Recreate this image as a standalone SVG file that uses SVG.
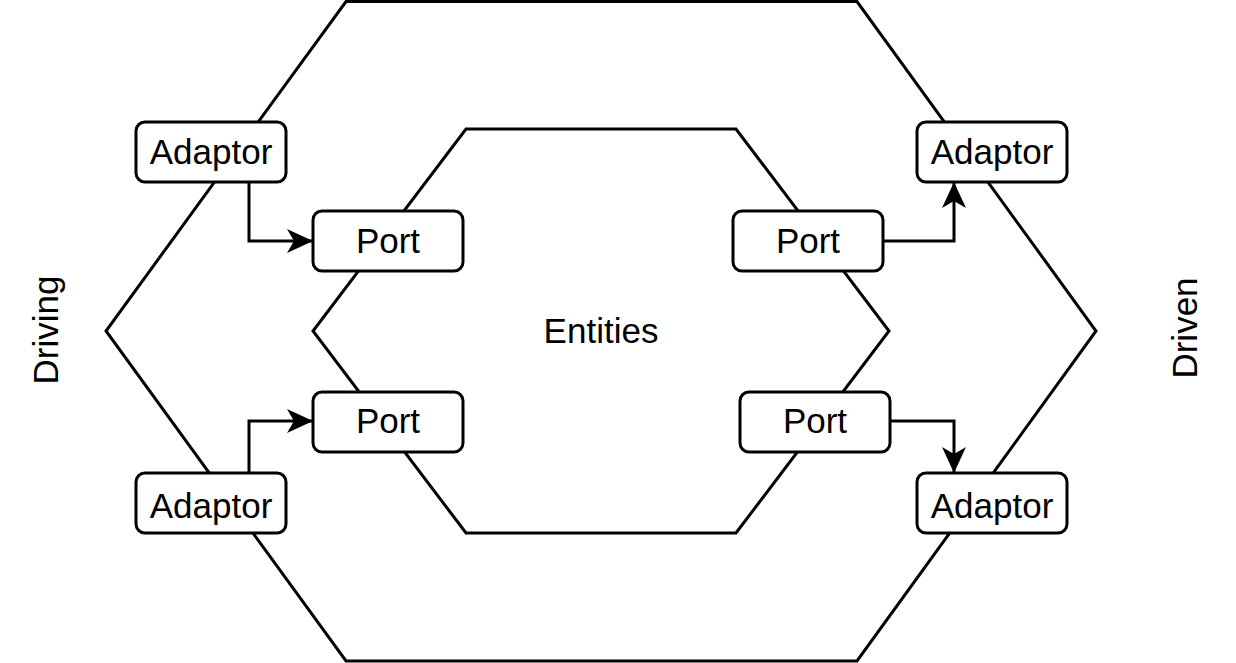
<svg xmlns="http://www.w3.org/2000/svg" width="1236" height="663" viewBox="0 0 1236 663">
<style>
.hex{fill:none;stroke:#000;stroke-width:3}
.box{fill:#fff;stroke:#000;stroke-width:3}
.lbl{font-family:"Liberation Sans",Arial,sans-serif;font-size:35px;fill:#000;text-anchor:middle}
.edge{fill:none;stroke:#000;stroke-width:3}
</style>
<defs>
<marker id="arrow" viewBox="0 0 26 26" refX="26" refY="13" markerWidth="26" markerHeight="26" markerUnits="userSpaceOnUse" orient="auto">
<path d="M0,1 L26,13 L0,25 L7,13 Z" fill="#000"/>
</marker>
</defs>
<g id="outer-hexagon"><polygon class="hex" points="346,1.5 857,1.5 1096,331 857,661 346,661 106,331"/></g>
<g id="inner-hexagon"><polygon class="hex" points="466,129 736,129 889,331 736,533 466,533 313,331"/></g>
<g id="entities"><text class="lbl" x="601" y="343">Entities</text></g>
<g id="driving"><text class="lbl" transform="translate(58,330) rotate(-90)">Driving</text></g>
<g id="driven"><text class="lbl" transform="translate(1197,328) rotate(-90)">Driven</text></g>
<g id="connectors">
<path class="edge" d="M249,182 V241 H313" marker-end="url(#arrow)"/>
<path class="edge" d="M883,241 H954 V182" marker-end="url(#arrow)"/>
<path class="edge" d="M249,473 V421 H313" marker-end="url(#arrow)"/>
<path class="edge" d="M890,421 H954 V473" marker-end="url(#arrow)"/>
</g>
<g id="adaptor-tl"><rect class="box" x="136" y="122" width="150" height="60" rx="9"/><text class="lbl" x="211" y="164">Adaptor</text></g>
<g id="port-tl"><rect class="box" x="313" y="211" width="150" height="60" rx="9"/><text class="lbl" x="388" y="253">Port</text></g>
<g id="adaptor-tr"><rect class="box" x="917" y="122" width="150" height="60" rx="9"/><text class="lbl" x="992" y="164">Adaptor</text></g>
<g id="port-tr"><rect class="box" x="733" y="211" width="150" height="60" rx="9"/><text class="lbl" x="808" y="253">Port</text></g>
<g id="port-bl"><rect class="box" x="313" y="392" width="150" height="60" rx="9"/><text class="lbl" x="388" y="433">Port</text></g>
<g id="adaptor-bl"><rect class="box" x="136" y="473" width="150" height="60" rx="9"/><text class="lbl" x="211" y="518">Adaptor</text></g>
<g id="port-br"><rect class="box" x="740" y="392" width="150" height="60" rx="9"/><text class="lbl" x="815" y="433">Port</text></g>
<g id="adaptor-br"><rect class="box" x="917" y="473" width="150" height="60" rx="9"/><text class="lbl" x="992" y="518">Adaptor</text></g>
</svg>
